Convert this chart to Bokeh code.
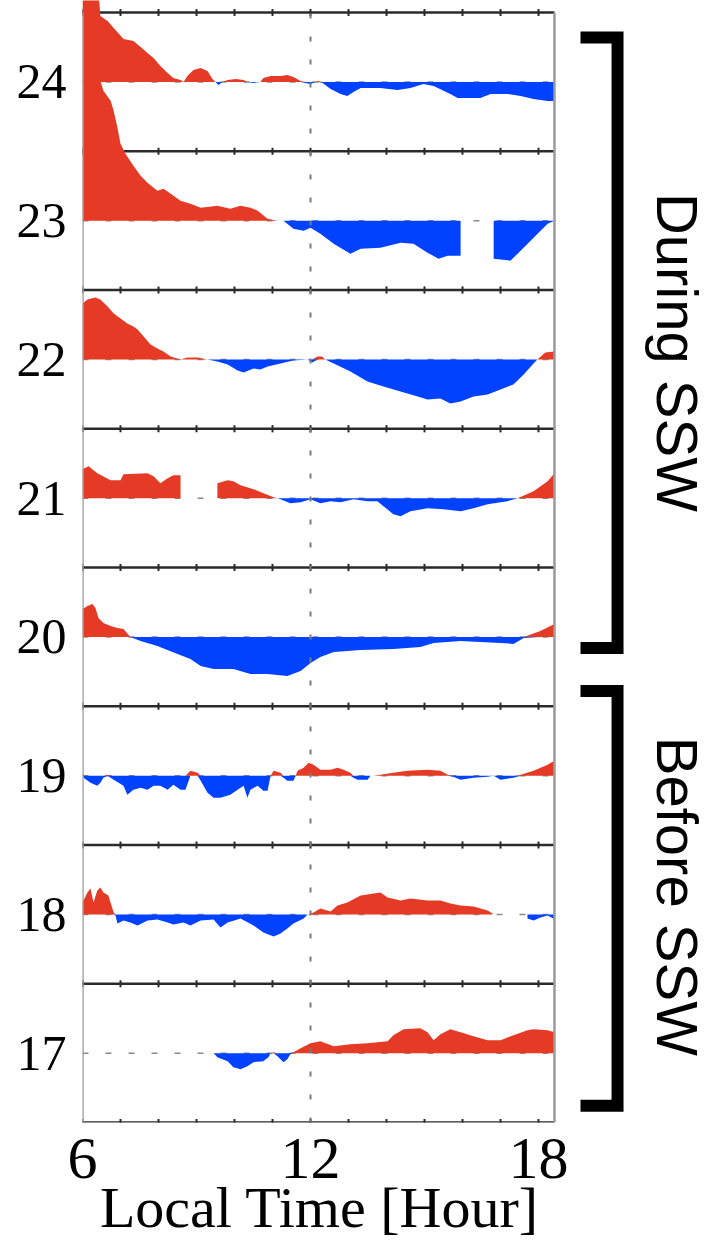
import numpy as np
from bokeh.plotting import figure
from bokeh.layouts import row
from bokeh.models import Range1d, FixedTicker
from bokeh.core.properties import value
from bokeh.embed import file_html
from bokeh.resources import INLINE

nan = float("nan")

# ---------------- data ----------------
days = [17, 18, 19, 20, 21, 22, 23, 24]
x_tick_labels = [6, 12, 18]
group_names = ["During SSW", "Before SSW"]

# local time [h] and deviation (arbitrary units) for each day
lt_24 = [6.00, 6.42, 6.47, 6.66, 6.82, 7.08, 7.34, 7.53, 7.71, 7.87, 8.05, 8.24, 8.39, 8.58, 8.66,
         8.76, 8.92, 9.11, 9.29, 9.42, 9.50, 9.58, 9.68, 9.82, 10.03, 10.24, 10.34, 10.50, 10.68,
         10.76, 10.95, 11.21, 11.39, 11.55, 11.74, 11.87, 12.00, 12.13, 12.21, 12.32, 12.53, 12.79,
         12.97, 13.13, 13.32, 13.84, 14.29, 14.63, 14.97, 15.24, 15.68, 15.87, 16.47, 16.74, 17.18,
         17.53, 17.87, 18.24, 18.42]
dev_24 = [90, 90, 66, 61, 54, 43, 41, 35, 29, 24, 16, 9, 4, 2, 0,
          6, 12, 14, 11, 3, 0, -3, 0, 2, 3, 2, 0, -1, 0,
          4, 6, 6, 7, 5, 1, -1, -2, 0, 1, -1, -7, -12,
          -14, -10, -6, -6, -8, -6, -2, -4, -12, -16, -16, -12, -12,
          -14, -17, -19, -19]

lt_23 = [6.00, 6.47, 6.55, 6.74, 6.82, 6.92, 7.00, 7.13, 7.34, 7.53, 7.71, 7.97, 8.13, 8.32, 8.58,
         8.84, 9.11, 9.55, 9.89, 10.16, 10.42, 10.61, 10.87, 11.13, 11.29, 11.55, 11.82, 12.00,
         12.26, 12.61, 13.05, 13.32, 13.84, 14.37, 14.71, 15.08, 15.37, 15.61, 15.95, 16.40,
         16.82, 17.26, 17.45, 17.87, 18.24, 18.42]
dev_23 = [140, 140, 130, 120, 110, 93, 77, 67, 55, 45, 38, 30, 32, 27, 20,
          17, 13, 15, 12, 15, 13, 10, 2, 0, 0, -8, -10, -7,
          -13, -23, -33, -28, -27, -22, -23, -32, -38, -35, -35, nan,
          -38, -40, -33, -17, -3, 0]

lt_22 = [6.00, 6.13, 6.34, 6.47, 6.66, 6.82, 7.00, 7.18, 7.34, 7.45, 7.61, 7.79, 7.97, 8.13, 8.32,
         8.58, 8.76, 9.03, 9.29, 9.55, 9.82, 10.08, 10.24, 10.50, 10.68, 10.87, 11.21, 11.55, 11.92,
         12.05, 12.18, 12.30, 12.39, 12.61, 13.05, 13.50, 13.92, 14.37, 14.82, 15.08, 15.42, 15.68,
         15.95, 16.29, 16.66, 17.00, 17.34, 17.61, 17.87, 17.97, 18.18, 18.42]
dev_22 = [56, 60, 62, 60, 53, 46, 41, 36, 33, 30, 23, 15, 11, 8, 3,
          0, 2, 2, 0, -2, -5, -11, -13, -9, -10, -7, -4, -1, 0,
          -3, 3, 3, 0, -4, -12, -22, -27, -32, -37, -40, -39, -44,
          -42, -37, -35, -30, -25, -15, -4, 0, 7, 8]

lt_21 = [6.00, 6.16, 6.39, 6.74, 7.00, 7.08, 7.71, 7.87, 8.05, 8.24, 8.39, 8.58, 9.00,
         9.55, 9.82, 9.97, 10.16, 10.50, 10.76, 11.03, 11.13, 11.21, 11.47, 11.74, 12.00, 12.26,
         12.53, 12.79, 13.13, 13.50, 13.76, 13.92, 14.18, 14.37, 14.63, 15.08, 15.50, 15.95, 16.29,
         16.66, 17.18, 17.45, 17.87, 18.24, 18.42]
dev_21 = [29, 32, 25, 18, 18, 24, 25, 22, 15, 20, 23, 23, nan,
          15, 18, 17, 13, 9, 5, 1, 0, -1, -5, -4, -1, -5,
          -3, -4, -1, -3, -3, -8, -16, -18, -13, -10, -11, -13, -10,
          -6, -3, 0, 7, 17, 25]

lt_20 = [6.00, 6.13, 6.26, 6.34, 6.42, 6.55, 6.74, 6.92, 7.08, 7.26, 7.53, 7.97, 8.50, 8.84, 9.11,
         9.45, 9.97, 10.42, 10.87, 11.39, 11.74, 12.00, 12.26, 12.61, 13.32, 14.18, 14.89, 15.24,
         15.95, 17.00, 17.34, 17.61, 18.05, 18.42]
dev_20 = [28, 31, 33, 29, 19, 14, 11, 9, 8, 0, -4, -9, -17, -22, -29,
          -32, -32, -37, -37, -39, -34, -26, -20, -15, -13, -12, -10, -6,
          -4, -6, -7, -1, 6, 13]

lt_19 = [6.00, 6.03, 6.21, 6.39, 6.47, 6.55, 6.66, 6.82, 7.08, 7.18, 7.34, 7.53, 7.71, 7.87, 8.05,
         8.24, 8.39, 8.58, 8.71, 8.84, 9.03, 9.11, 9.29, 9.45, 9.63, 9.89, 10.08, 10.24, 10.34,
         10.42, 10.61, 10.76, 10.87, 10.95, 11.03, 11.21, 11.29, 11.39, 11.55, 11.61, 11.66, 11.82,
         11.95, 12.08, 12.26, 12.53, 12.71, 12.87, 13.05, 13.13, 13.24, 13.50, 13.58, 13.66, 14.18,
         14.55, 15.08, 15.42, 15.61, 15.76, 15.95, 16.29, 16.66, 16.82, 17.00, 17.34, 17.53, 17.87,
         18.24, 18.42]
dev_19 = [2, -2, -7, -10, -7, -2, 1, -4, -10, -19, -14, -12, -14, -10, -10,
          -14, -9, -14, -14, 5, 3, -5, -17, -22, -22, -19, -14, -10, -22,
          -14, -10, -15, -15, 0, 5, 3, -2, -5, -5, 0, 5, 8,
          13, 11, 6, 6, 8, 6, 3, -2, -4, -4, 0, 0, 3,
          5, 6, 5, 1, -1, -4, -2, -1, 0, -4, -2, 1, 5,
          11, 15]

lt_18 = [6.00, 6.13, 6.21, 6.29, 6.39, 6.47, 6.55, 6.68, 6.82, 6.87, 6.92, 7.08, 7.26, 7.45, 7.71,
         7.97, 8.24, 8.39, 8.66, 8.84, 9.11, 9.45, 9.63, 9.82, 10.16, 10.50, 10.76, 11.03, 11.21,
         11.39, 11.55, 11.82, 11.92, 12.08, 12.26, 12.53, 12.71, 12.97, 13.32, 13.84, 14.03, 14.37,
         14.63, 15.08, 15.42, 15.68, 15.95, 16.29, 16.66, 16.79, 17.20,
         17.71, 17.87, 18.05, 18.24, 18.39, 18.42]
dev_18 = [12, 22, 26, 12, 24, 27, 22, 19, 2, -1, -9, -6, -8, -11, -6,
          -5, -8, -10, -8, -11, -6, -5, -13, -8, -4, -11, -18, -22, -19,
          -14, -9, -4, 0, 2, 6, 3, 9, 12, 19, 22, 17, 14,
          16, 14, 14, 11, 9, 8, 4, 1, nan,
          -4, -6, -3, -1, -4, -8]

lt_17 = [9.45, 9.55, 9.82, 9.97, 10.16, 10.34, 10.50, 10.76, 10.89, 10.95, 11.03, 11.13, 11.29,
         11.39, 11.47, 11.55, 11.74, 12.00, 12.26, 12.61, 13.05, 13.50, 14.03, 14.18, 14.45, 14.89,
         15.08, 15.24, 15.42, 15.68, 15.95, 16.29, 16.66, 17.00, 17.34, 17.71, 17.87, 18.24, 18.42]
dev_17 = [0, -4, -8, -14, -16, -13, -9, -8, -4, 0, 1, -3, -9,
          -6, -1, 1, 5, 10, 12, 7, 9, 10, 12, 18, 24, 25,
          21, 13, 19, 24, 21, 17, 13, 13, 18, 23, 24, 23, 21]

series = {17: (lt_17, dev_17), 18: (lt_18, dev_18), 19: (lt_19, dev_19), 20: (lt_20, dev_20),
          21: (lt_21, dev_21), 22: (lt_22, dev_22), 23: (lt_23, dev_23), 24: (lt_24, dev_24)}

# ---------------- layout / style ----------------
PX_PER_H = 38.0
PX_PER_DAY = 138.75
LEFT = 82
MAIN_FRAME_W, FRAME_H = 474, 1122
MAIN_CANVAS_W, TOTAL_W = 578, 710
X_LO, X_HI = 6.0, 18.42
Y_LO, Y_HI = 16.5, 24.5
UNIT = 1.0 / PX_PER_DAY          # deviation unit -> offset in day units
RED, BLUE = "#E53A25", "#0042FF"

y_range = Range1d(Y_LO, Y_LO + FRAME_H / PX_PER_DAY)

p = figure(frame_width=MAIN_FRAME_W, frame_height=FRAME_H,
           x_range=Range1d(X_LO, X_LO + MAIN_FRAME_W / PX_PER_H), y_range=y_range,
           min_border_left=LEFT, min_border_right=MAIN_CANVAS_W - LEFT - MAIN_FRAME_W,
           min_border_top=0, min_border_bottom=133,
           output_backend="svg", toolbar_location=None)
p.outline_line_color = None
p.grid.visible = False

# dashed zero lines of each day
p.segment(x0=[X_LO] * len(days), x1=[X_HI] * len(days), y0=days, y1=days,
          line_color="#8a8a8a", line_width=1.5, line_dash="6 17")

# panel separators with hourly ticks
bounds = [Y_LO + k for k in range(int(Y_HI - Y_LO) + 1)]
p.segment(x0=[X_LO] * len(bounds), x1=[X_HI] * len(bounds), y0=bounds, y1=bounds,
          line_color="#2a2a2a", line_width=2.5)
hrs = np.arange(6, 19)
tx, ty0, ty1 = [], [], []
for b in bounds:
    for h in hrs:
        tx.append(h); ty0.append(b - 0.026); ty1.append(b + 0.026)
p.segment(x0=tx, x1=tx, y0=ty0, y1=ty1, line_color="#2a2a2a", line_width=2)


def runs(h, v):
    h = np.asarray(h, float); v = np.asarray(v, float)
    idx = np.where(~np.isnan(v))[0]
    parts = np.split(idx, np.where(np.diff(idx) != 1)[0] + 1)
    return [(h[g], v[g]) for g in parts if len(g) > 1]


for d in days:
    h_all, v_all = series[d]
    for hs, vs in runs(h_all, v_all):
        base = np.full(len(hs), float(d))
        p.varea(x=hs, y1=base, y2=base + np.maximum(vs, 0) * UNIT, fill_color=RED)
        p.varea(x=hs, y1=base + np.minimum(vs, 0) * UNIT, y2=base, fill_color=BLUE)

# noon line
p.segment(x0=[12], x1=[12], y0=[Y_LO], y1=[Y_HI], line_color="#7a7a7a",
          line_width=2, line_dash="5 18")
# left / right frame of the panels
p.segment(x0=[X_LO, X_HI], x1=[X_LO, X_HI], y0=[Y_LO, Y_LO], y1=[Y_HI, Y_HI],
          line_color="#9a9a9a", line_width=2.5)

# axes
ya = p.yaxis[0]
ya.ticker = FixedTicker(ticks=days)
ya.axis_line_color = None
ya.major_tick_line_color = None
ya.minor_tick_line_color = None
ya.major_tick_out = 0
ya.major_label_standoff = 16
ya.major_label_text_font = "Liberation Serif"
ya.major_label_text_font_size = "50px"
ya.major_label_text_color = "black"

xa = p.xaxis[0]
xa.ticker = FixedTicker(ticks=x_tick_labels)
xa.axis_line_color = None
xa.major_tick_line_color = None
xa.minor_tick_line_color = None
xa.major_tick_out = 0
xa.major_label_standoff = 16
xa.major_label_text_font = "Liberation Serif"
xa.major_label_text_font_size = "60px"
xa.major_label_text_color = "black"
xa.axis_label = "Local Time [Hour]"
xa.axis_label_text_font = "Liberation Serif"
xa.axis_label_text_font_size = "58px"
xa.axis_label_text_font_style = "normal"
xa.axis_label_text_color = "black"
xa.axis_label_standoff = -6

# ---------------- side panel: period brackets ----------------
side_w = TOTAL_W - MAIN_CANVAS_W
sx0 = X_LO + (MAIN_CANVAS_W - LEFT) / PX_PER_H
q = figure(frame_width=side_w, frame_height=FRAME_H,
           x_range=Range1d(sx0, sx0 + side_w / PX_PER_H), y_range=y_range,
           min_border_left=0, min_border_right=0, min_border_top=0, min_border_bottom=0,
           x_axis_location=None, y_axis_location=None,
           output_backend="svg", toolbar_location=None)
q.outline_line_color = None
q.grid.visible = False

arm_x, spine_x = X_HI + 0.685, X_HI + 1.66
bracket_spans = [(19.92, 24.32), (16.62, 19.61)]
bxs, bys = [], []
for lo, hi in bracket_spans:
    bxs.append([arm_x, spine_x, spine_x, arm_x])
    bys.append([hi, hi, lo, lo])
q.multi_line(xs=bxs, ys=bys, line_color="black", line_width=12,
             line_join="miter", line_cap="butt")
q.text(x=[X_HI + 3.24] * 2, y=[22.05, 18.13], text=group_names, angle=-np.pi / 2,
       text_font=value("Liberation Sans"), text_font_size="58px", text_color="black",
       text_align="center", text_baseline="middle")

layout = row(p, q, spacing=0)
open("out.html", "w").write(file_html(layout, INLINE))
